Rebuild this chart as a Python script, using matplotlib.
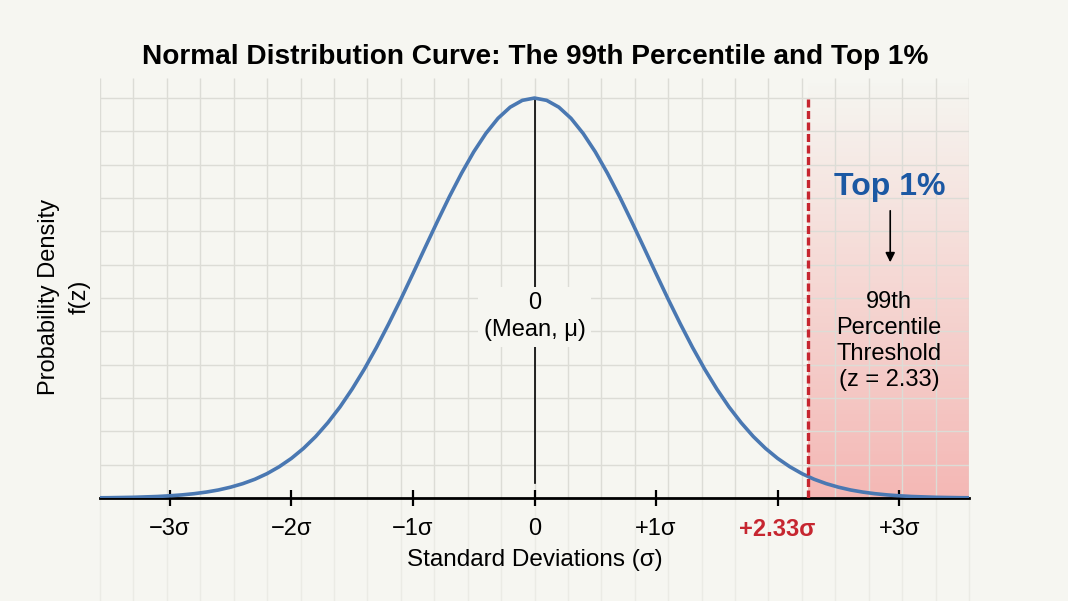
import numpy as np
import matplotlib.pyplot as plt

plt.rcParams['font.family'] = ['Liberation Sans', 'DejaVu Sans']

# curve (heights in density units, peak ~0.399)
z_values = [-3.6, -3.5, -3.4, -3.3, -3.2, -3.1, -3.0, -2.9, -2.8, -2.7, -2.6, -2.5,
            -2.4, -2.3, -2.2, -2.1, -2.0, -1.9, -1.8, -1.7, -1.6, -1.5, -1.4, -1.3,
            -1.2, -1.1, -1.0, -0.9, -0.8, -0.7, -0.6, -0.5, -0.4, -0.3, -0.2, -0.1,
            0.0, 0.1, 0.2, 0.3, 0.4, 0.5, 0.6, 0.7, 0.8, 0.9, 1.0, 1.1,
            1.2, 1.3, 1.4, 1.5, 1.6, 1.7, 1.8, 1.9, 2.0, 2.1, 2.2, 2.3,
            2.4, 2.5, 2.6, 2.7, 2.8, 2.9, 3.0, 3.1, 3.2, 3.3, 3.4, 3.5, 3.6]
density = [0.0002, 0.0003, 0.0005, 0.0007, 0.0011, 0.0015, 0.0022, 0.0031, 0.0043,
           0.0059, 0.0080, 0.0108, 0.0143, 0.0187, 0.0243, 0.0312, 0.0395, 0.0495,
           0.0613, 0.0751, 0.0908, 0.1087, 0.1285, 0.1502, 0.1736, 0.1982, 0.2238,
           0.2498, 0.2756, 0.3006, 0.3240, 0.3453, 0.3637, 0.3788, 0.3899, 0.3967,
           0.3990,
           0.3967, 0.3899, 0.3788, 0.3637, 0.3453, 0.3240, 0.3006, 0.2756, 0.2498,
           0.2238, 0.1982, 0.1736, 0.1502, 0.1285, 0.1087, 0.0908, 0.0751, 0.0613,
           0.0495, 0.0395, 0.0312, 0.0243, 0.0187, 0.0143, 0.0108, 0.0080, 0.0059,
           0.0043, 0.0031, 0.0022, 0.0015, 0.0011, 0.0007, 0.0005, 0.0003, 0.0002]

tick_positions = [-3, -2, -1, 0, 1, 2, 3]
tick_labels = ['\u22123\u03c3', '\u22122\u03c3', '\u22121\u03c3', '0', '+1\u03c3', '+2.33\u03c3', '+3\u03c3']
highlight_tick = '+2.33\u03c3'
threshold_z = 2.25
peak_density = 0.399

title = 'Normal Distribution Curve: The 99th Percentile and Top 1%'
x_label = 'Standard Deviations (\u03c3)'
y_label = 'Probability Density\nf(z)'
mean_label = '0\n(Mean, \u03bc)'
top_label = 'Top 1%'
threshold_label = '99th\nPercentile\nThreshold\n(z = 2.33)'

bg = '#f6f6f1'
grid_col = '#dcdcd6'
blue = '#4a78b2'
red = '#c62630'

x_lim = 3.574
y_top = 0.419

fig = plt.figure(figsize=(10.68, 6.01), dpi=100, facecolor=bg)
ax = fig.add_axes([100 / 1068, 1 - 498 / 601, 869 / 1068, 420 / 601])
ax.set_facecolor(bg)

# square paper grid
step_x = x_lim / 13
step_y = peak_density / 12
gx = [step_x * k for k in range(-13, 14)]
gy = [step_y * k for k in range(1, 13)]
ax.vlines(gx, 0, y_top, color=grid_col, lw=1, zorder=1)
ax.hlines(gy, -x_lim, x_lim, color=grid_col, lw=1, zorder=1)
ax.vlines(gx, -0.103, 0, color='#ebebe5', lw=1, zorder=1, clip_on=False)

# shaded top tail, fading upward (row 0 = top)
grad = np.zeros((200, 2, 4))
grad[..., 0] = 0.95
grad[..., 1] = 0.42
grad[..., 2] = 0.42
grad[..., 3] = np.linspace(0.0, 0.45, 200)[:, None]
ax.imshow(grad, extent=[threshold_z, x_lim, 0, y_top], aspect='auto', zorder=0.5,
          origin='upper', interpolation='bilinear')

ax.plot(z_values, density, color=blue, lw=2.6, zorder=4)

# mean line + label
ax.plot([0, 0], [0.015, peak_density], color='black', lw=1.2, zorder=3)
ax.text(0, 0.181, mean_label, ha='center', va='center', fontsize=17, linespacing=1.28,
        zorder=5, bbox=dict(facecolor=bg, edgecolor='none', pad=4))

# threshold line
ax.plot([threshold_z, threshold_z], [0, peak_density], color=red, lw=2.4,
        dashes=(2.4, 1.05), zorder=5)

ax.text(2.926, 0.3022, top_label, ha='center', va='baseline', fontsize=23,
        fontweight='bold', color='#1b58a3', zorder=6)
ax.annotate('', xy=(2.926, 0.2324), xytext=(2.926, 0.2893),
            arrowprops=dict(arrowstyle='-|>', color='black', lw=1.2, mutation_scale=14),
            zorder=6)
ax.text(2.918, 0.1566, threshold_label, ha='center', va='center', fontsize=17,
        linespacing=1.22, zorder=6)

ax.set_xlim(-x_lim, x_lim)
ax.set_ylim(0, y_top)
for s in ['top', 'left', 'right']:
    ax.spines[s].set_visible(False)
ax.spines['bottom'].set_linewidth(2)
ax.spines['bottom'].set_zorder(3.5)
ax.set_yticks([])
ax.set_xticks(tick_positions)
ax.set_xticklabels(tick_labels, fontsize=17)
ax.tick_params(axis='x', direction='inout', length=11, width=1.6, pad=9)
for lab in ax.get_xticklabels():
    if lab.get_text() == highlight_tick:
        lab.set_color(red)
        lab.set_fontweight('bold')

fig.text(535 / 1068, 1 - 560 / 601, x_label, ha='center', va='center', fontsize=17.5)
fig.text(64 / 1068, 1 - 297 / 601, y_label, ha='center', va='center', rotation=90,
         fontsize=17, linespacing=1.5)
fig.text(535 / 1068, 1 - 57 / 601, title, ha='center', va='center', fontsize=20.2,
         fontweight='bold')

fig.savefig('out.png', dpi=100, facecolor=bg)
